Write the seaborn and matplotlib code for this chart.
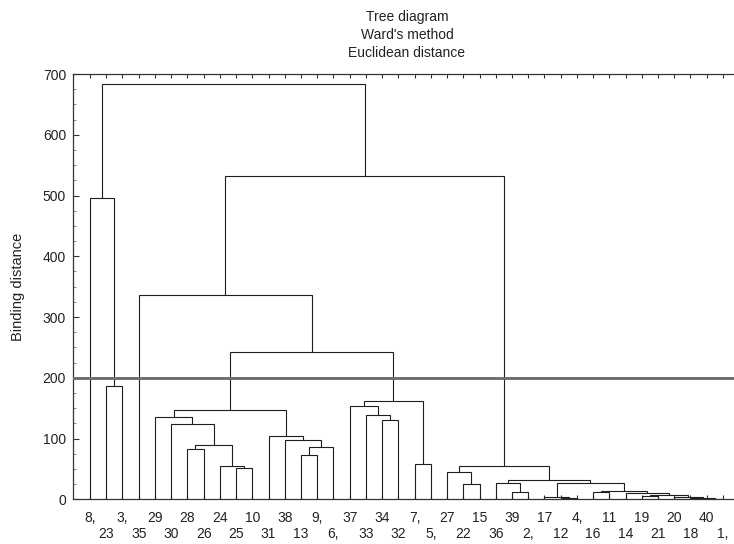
import matplotlib
matplotlib.use("Agg")
import matplotlib.pyplot as plt
import seaborn as sns
from matplotlib.ticker import MultipleLocator

# leaf order along the x axis and the labels printed under them
leaf_ids = ["8", "23", "3", "35", "29", "30", "28", "26", "24", "25", "10", "31",
            "38", "13", "9", "6", "37", "33", "34", "32", "7", "5", "27", "22",
            "15", "36", "39", "2", "17", "12", "4", "16", "11", "14", "19", "21",
            "20", "18", "40", "1"]
leaf_labels = ["8,", "23", "3,", "35", "29", "30", "28", "26", "24", "25", "10", "31",
               "38", "13", "9,", "6,", "37", "33", "34", "32", "7,", "5,", "27", "22",
               "15", "36", "39", "2,", "17", "12", "4,", "16", "11", "14", "19", "21",
               "20", "18", "40", "1,"]

# merges: str = leaf, int = index of an earlier merge
merge_left = ["23", "8", "25", "24", "28", 4, "30", "29", "13", 8, "38", "31", 7,
              "34", "33", "37", "7", 15, 12, "35", "22", "27", "39", "36", "12",
              "17", "16", "40", "18", "20", "19", 30, "14", 26, 25, 23, 21, 19, 1]
merge_right = ["3", 0, "10", 2, "26", 3, 5, 6, "9", "6", 9, 10, 11,
               "32", 13, 14, "5", 16, 17, 18, "15", 20, "2", 22, "4",
               24, "11", "1", 27, 28, "21", 29, 31, 32, 33, 34, 35, 36, 37]
merge_height = [186.5, 496, 52, 55.5, 83.5, 89.5, 123.5, 135, 73.5, 85.5, 97, 104.5, 147,
                130.5, 139, 154, 57.5, 162.5, 242.5, 335.5, 24.5, 44.5, 11.5, 27, 1.5,
                4, 11.5, 1.2, 2.5, 3.5, 5.5, 7.5, 10, 14, 27, 32, 54.5, 532, 684]

cut_level = 200

sns.set_style("ticks")
plt.rcParams["font.family"] = ["Liberation Sans", "DejaVu Sans"]

fig = plt.figure(figsize=(7.34, 5.44), dpi=100)
ax = fig.add_axes([73 / 734, 1 - 499.3 / 544, 667 / 734, 425.3 / 544])

line_col = "#1e1e1e"
text_col = "#222222"

leaf_x = {lid: i for i, lid in enumerate(leaf_ids)}
node_x, node_y = [], []


def pos(c):
    if isinstance(c, str):
        return leaf_x[c], 0.0
    return node_x[c], node_y[c]


for a, b, h in zip(merge_left, merge_right, merge_height):
    xa, ya = pos(a)
    xb, yb = pos(b)
    ax.plot([xa, xa, xb, xb], [ya, h, h, yb], color=line_col, lw=0.8,
            solid_joinstyle="miter", zorder=2)
    node_x.append((xa + xb) / 2)
    node_y.append(h)

ax.axhline(cut_level, color="#6e6e6e", lw=2.1, zorder=3)

ax.set_xlim(-1.047, 40.05)
ax.set_ylim(0, 700)

ax.set_xticks(range(len(leaf_ids)))
ax.set_xticklabels([])
ax.tick_params(axis="x", direction="in", length=3, width=0.8, top=True,
               bottom=True, color="#333333")
for i, lab in enumerate(leaf_labels):
    yrow = -0.0534 if i % 2 == 0 else -0.0910
    ax.text(i, yrow, lab, transform=ax.get_xaxis_transform(), ha="center",
            va="baseline", fontsize=10, color=text_col)

ax.yaxis.set_major_locator(MultipleLocator(100))
ax.yaxis.set_minor_locator(MultipleLocator(25))
ax.tick_params(axis="y", which="major", direction="in", length=4, width=0.8,
               pad=5, labelsize=10, labelcolor=text_col, color="#333333")
ax.tick_params(axis="y", which="minor", direction="in", length=2, width=0.6,
               color="#777777")

for side in ["left", "top", "bottom"]:
    ax.spines[side].set_color("#333333")
    ax.spines[side].set_linewidth(0.9)
ax.spines["right"].set_visible(False)

ax.set_ylabel("Binding distance", fontsize=10.5, color=text_col)
ax.yaxis.set_label_coords(-0.072, 0.5)

for txt, ypx in [("Tree diagram", 17), ("Ward's method", 35), ("Euclidean distance", 53)]:
    fig.text(407 / 734, 1 - ypx / 544, txt, ha="center", va="center",
             fontsize=10, color=text_col)

fig.savefig("out.png", dpi=100)
